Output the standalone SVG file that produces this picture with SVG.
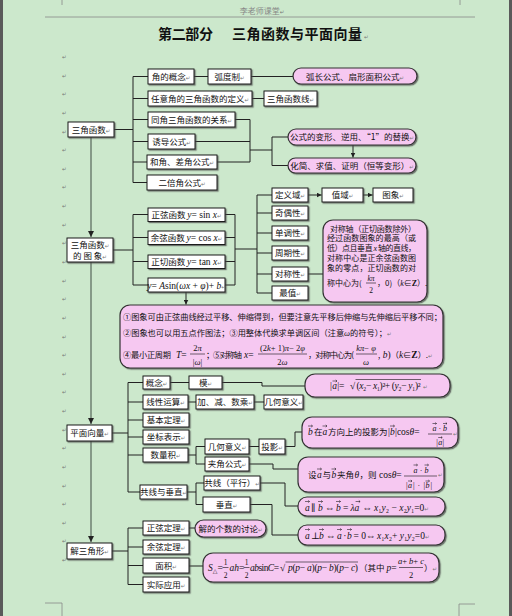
<svg xmlns="http://www.w3.org/2000/svg" width="512" height="616" viewBox="0 0 512 616">
<defs>
<style>
.t{font-family:"Noto Sans CJK SC","Noto Sans CJK JP",sans-serif;font-size:8.5px;fill:#111}
.s{font-size:8.2px}
.c{text-anchor:middle}
.m{font-family:"Liberation Serif","DejaVu Serif",serif;font-style:italic;font-size:9.5px}
.r{font-family:"Liberation Serif","DejaVu Serif",serif;font-style:normal;font-size:9.5px}
.q{font-size:8px}
.f{font-size:8px}
.pm{font-family:"DejaVu Sans",sans-serif;font-size:5.5px;fill:#777;font-style:normal}
.box{fill:#fff;stroke:#1a1a1a;stroke-width:1;filter:url(#sh)}
.pk{fill:#F6C8F1;stroke:#333;stroke-width:1.2;filter:url(#sh)}
.ln{fill:none;stroke:#222;stroke-width:1}
.lg{fill:none;stroke:#56655a;stroke-width:1.2}
.ar{marker-end:url(#ah)}
.fb{stroke:#111;stroke-width:0.6}
.va{fill:none;stroke:#111;stroke-width:0.55}
.pg{fill:none;stroke:#888;stroke-width:0.8}
</style>
<filter id="sh" x="-10%" y="-20%" width="125%" height="150%">
<feDropShadow dx="1.2" dy="1.2" stdDeviation="0.2" flood-color="#444" flood-opacity="0.7"/>
</filter>
<marker id="ah" viewBox="0 0 6 6" refX="6" refY="3" markerWidth="5" markerHeight="5" orient="auto"><path d="M0,0 L6,3 L0,6 z" fill="#222"/></marker>
</defs>
<rect x="0" y="0" width="512" height="616" fill="#CCE8CC"/>
<rect x="0" y="0" width="3" height="616" fill="#5a5a5a"/>
<rect x="509" y="0" width="3" height="616" fill="#5a5a5a"/>

<g id="page">
<path class="pg" d="M62,0 V5 M460,0 V5 M45,17 H475 M62,616 V603 H45 M459,616 V604 H475"/>
<text class="t c" x="262" y="14" style="font-size:8px;fill:#888">李老师课堂<tspan class="pm">↵</tspan></text>
<text class="t" x="158" y="39" style="font-size:14px;font-weight:bold" textLength="55">第二部分</text>
<text class="t" x="232" y="39" style="font-size:14px;font-weight:bold" textLength="130">三角函数与平面向量</text>
<text class="pm" x="364" y="39">↵</text>
<text class="pm" x="62"><tspan x="62" y="59">↵</tspan><tspan x="62" y="77.6">↵</tspan><tspan x="62" y="96.3">↵</tspan><tspan x="62" y="114.9">↵</tspan><tspan x="62" y="133.5">↵</tspan><tspan x="62" y="152.2">↵</tspan><tspan x="62" y="170.8">↵</tspan><tspan x="62" y="189.4">↵</tspan><tspan x="62" y="208">↵</tspan><tspan x="62" y="226.7">↵</tspan><tspan x="62" y="245.3">↵</tspan><tspan x="62" y="263.9">↵</tspan><tspan x="62" y="282.6">↵</tspan><tspan x="62" y="301.2">↵</tspan><tspan x="62" y="319.8">↵</tspan><tspan x="62" y="338.5">↵</tspan><tspan x="62" y="357.1">↵</tspan><tspan x="62" y="375.7">↵</tspan><tspan x="62" y="394.3">↵</tspan><tspan x="62" y="413">↵</tspan><tspan x="62" y="431.6">↵</tspan><tspan x="62" y="450.2">↵</tspan><tspan x="62" y="468.9">↵</tspan><tspan x="62" y="487.5">↵</tspan><tspan x="62" y="506.1">↵</tspan><tspan x="62" y="524.8">↵</tspan><tspan x="62" y="543.4">↵</tspan><tspan x="62" y="562">↵</tspan></text>
</g>

<g id="connectors">
<path class="lg ar" d="M91,137 V237"/>
<path class="lg ar" d="M91,262 V424"/>
<path class="lg ar" d="M91,441 V542"/>
<path class="ln" d="M114,129.5 H133 M133,76.5 V182.5 M133,76.5 H148 M133,98.5 H148 M133,119.5 H148 M133,141.5 H148 M133,162 H147 M133,182.5 H147"/>
<path class="ln" d="M194,76.5 H208 M251,76.5 H293 M252,98.5 H264"/>
<path class="ln" d="M235,119.5 H250 M195,141.5 H250 M217,162 H250 M250,119.5 V162 M250,150 H272 M272,137 V165.5 M272,137 H288 M272,165.5 H288"/>
<path class="ln ar" d="M353,145 V157.5"/>
<path class="ln" d="M113,250 H133 M133,214.5 V285 M133,214.5 H148 M133,237.5 H148 M133,261.5 H148 M133,285 H148"/>
<path class="ln" d="M225,214.5 H235 M225,237.5 H235 M225,261.5 H235 M225,285 H235 M235,214.5 V285 M235,249 H257 M257,195 V293"/>
<path class="ln" d="M257,195 H272 M257,213 H272 M257,233 H272 M257,253 H272 M257,274 H272 M257,293 H272 M308,274 H323"/>
<path class="ln ar" d="M308,195 H321.5"/>
<path class="ln ar" d="M363,195 H372.5"/>
<path class="ln ar" d="M186,292 V304.5"/>
<path class="ln" d="M112,433 H128 M128,382.5 V492 M128,382.5 H143 M128,402 H143 M128,420 H143 M128,437 H143 M128,455 H143 M128,492 H140"/>
<path class="ln" d="M170,382.5 H189 M222,382.5 H262 V386 H305 M188,402 H196 M254,402 H264"/>
<path class="ln" d="M188,455 H196 M196,446.5 V464 M196,446.5 H205 M196,464 H205 M249,446.5 H259 M285,446.5 H295 V432 H302 M249,464 H273 V469 H298"/>
<path class="ln" d="M187,492 H196 M196,483 V504.5 M196,483 H204 M196,504.5 H203 M260,483 H285 V506 H298 M250,504.5 H272 V535 H298"/>
<path class="ln" d="M112,551 H128 M128,528 V584.5 M128,528 H143 M128,547 H143 M128,565.5 H143 M128,584.5 H143 M189,528 H195 M189,566 H203"/>
</g>

<g id="n-sanjiao"><rect class="box" x="68" y="122" width="46" height="15"/><text class="t c" x="91" y="132.5">三角函数<tspan class="pm">↵</tspan></text></g>
<g id="n-jiaodegainian"><rect class="box" x="148" y="69" width="46" height="15"/><text class="t c" x="171" y="79.5">角的概念<tspan class="pm">↵</tspan></text></g>
<g id="n-hudu"><rect class="box" x="208" y="69" width="43" height="15"/><text class="t c" x="229.5" y="79.5">弧度制<tspan class="pm">↵</tspan></text></g>
<g id="p-huchang"><rect class="pk" x="293" y="68" width="124" height="16" rx="8"/><text class="t c" x="355" y="79.5">弧长公式、扇形面积公式<tspan class="pm">↵</tspan></text></g>
<g id="n-renyijiao"><rect class="box" x="148" y="91" width="104" height="15"/><text class="t c" x="200" y="101.5">任意角的三角函数的定义<tspan class="pm">↵</tspan></text></g>
<g id="n-hanshuxian"><rect class="box" x="264" y="91" width="53" height="15"/><text class="t c" x="290.5" y="101.5">三角函数线<tspan class="pm">↵</tspan></text></g>
<g id="n-tongjiao"><rect class="box" x="148" y="112" width="87" height="15"/><text class="t c" x="191.5" y="122.5">同角三角函数的关系<tspan class="pm">↵</tspan></text></g>
<g id="n-youdao"><rect class="box" x="148" y="134" width="47" height="15"/><text class="t c" x="171.5" y="144.5">诱导公式<tspan class="pm">↵</tspan></text></g>
<g id="n-hejiao"><rect class="box" x="147" y="155" width="70" height="14"/><text class="t c" x="182" y="165">和角、差角公式<tspan class="pm">↵</tspan></text></g>
<g id="n-erbei"><rect class="box" x="147" y="175" width="70" height="15"/><text class="t c" x="182" y="185.5">二倍角公式<tspan class="pm">↵</tspan></text></g>
<g id="p-bianxing"><rect class="pk" x="288" y="129" width="128" height="16" rx="8"/><text class="t c" x="352" y="140.3">公式的变形、逆用、“1”的替换<tspan class="pm">↵</tspan></text></g>
<g id="p-huajian"><rect class="pk" x="288" y="158" width="128" height="15" rx="7.5"/><text class="t c" x="352" y="168.8">化简、求值、证明（恒等变形）<tspan class="pm">↵</tspan></text></g>

<g id="n-tuxiang"><rect class="box" x="67" y="238" width="46" height="24"/><text class="t c" x="90" y="247.5">三角函数<tspan class="pm">↵</tspan></text><text class="t c" x="90" y="258.5">的 图 象<tspan class="pm">↵</tspan></text></g>
<g id="n-sin"><rect class="box" x="148" y="208" width="77" height="13.5"/><text class="t c" x="186.5" y="218">正弦函数 <tspan class="m">y</tspan><tspan class="r">= sin </tspan><tspan class="m">x</tspan><tspan class="pm">↵</tspan></text></g>
<g id="n-cos"><rect class="box" x="148" y="231" width="77" height="13.5"/><text class="t c" x="186.5" y="241">余弦函数 <tspan class="m">y</tspan><tspan class="r">= cos </tspan><tspan class="m">x</tspan><tspan class="pm">↵</tspan></text></g>
<g id="n-tan"><rect class="box" x="148" y="255" width="77" height="13.5"/><text class="t c" x="186.5" y="265">正切函数 <tspan class="m">y</tspan><tspan class="r">= tan </tspan><tspan class="m">x</tspan><tspan class="pm">↵</tspan></text></g>
<g id="n-asin"><rect class="box" x="148" y="278" width="77" height="14"/><text class="t c" x="186.5" y="288.5"><tspan class="m">y</tspan><tspan class="r">= </tspan><tspan class="m">A</tspan><tspan class="r">sin(</tspan><tspan class="m">ωx</tspan><tspan class="r"> + </tspan><tspan class="m">φ</tspan><tspan class="r">)+ </tspan><tspan class="m">b</tspan><tspan class="pm">↵</tspan></text></g>
<g id="n-dingyiyu"><rect class="box" x="272" y="188" width="36" height="14"/><text class="t c" x="290" y="198">定义域<tspan class="pm">↵</tspan></text></g>
<g id="n-zhiyu"><rect class="box" x="322" y="188" width="41" height="14"/><text class="t c" x="342.5" y="198">值域<tspan class="pm">↵</tspan></text></g>
<g id="n-tuxiang2"><rect class="box" x="373" y="188" width="40" height="14"/><text class="t c" x="393" y="198">图象<tspan class="pm">↵</tspan></text></g>
<g id="n-jiou"><rect class="box" x="272" y="206" width="36" height="14"/><text class="t c" x="290" y="216">奇偶性<tspan class="pm">↵</tspan></text></g>
<g id="n-dandiao"><rect class="box" x="272" y="226" width="36" height="14"/><text class="t c" x="290" y="236">单调性<tspan class="pm">↵</tspan></text></g>
<g id="n-zhouqi"><rect class="box" x="272" y="246" width="36" height="14"/><text class="t c" x="290" y="256">周期性<tspan class="pm">↵</tspan></text></g>
<g id="n-duichen"><rect class="box" x="272" y="267" width="36" height="14"/><text class="t c" x="290" y="277">对称性<tspan class="pm">↵</tspan></text></g>
<g id="n-zuizhi"><rect class="box" x="272" y="286" width="36" height="14"/><text class="t c" x="290" y="296">最值<tspan class="pm">↵</tspan></text></g>
<g id="p-duichen">
<rect class="pk" x="323" y="220" width="104" height="82" rx="10"/>
<text class="t f" x="330" y="231.5" textLength="86">对称轴（正切函数除外）</text>
<text class="t f" x="327" y="241" textLength="89">经过函数图象的最高（或</text>
<text class="t f" x="327" y="251" textLength="89">低）点且垂直 <tspan class="m" style="font-size:8px">x</tspan> 轴的直线，</text>
<text class="t f" x="327" y="261" textLength="89">对称中心是正余弦函数图</text>
<text class="t f" x="327" y="271" textLength="89">象的零点，正切函数的对</text>
<text class="t f" x="327" y="285.5">称中心为(</text>
<text class="t c" x="371" y="281"><tspan class="m" style="font-size:7.5px">kπ</tspan></text>
<line class="fb" x1="366" y1="283" x2="376" y2="283"/>
<text class="t c" x="371" y="292.5"><tspan class="r" style="font-size:7.5px">2</tspan></text>
<text class="t f" x="377" y="285.5">，0)（<tspan class="m" style="font-size:8px">k</tspan>∈<tspan class="r" style="font-size:8px;font-weight:bold">Z</tspan>）.</text>
</g>
<g id="p-big">
<rect class="pk" x="120" y="305" width="323" height="63" rx="10"/>
<text class="t s" x="123" y="320" textLength="319">①图象可由正弦曲线经过平移、伸缩得到，但要注意先平移后伸缩与先伸缩后平移不同；</text>
<text class="t s" x="123" y="336">②图象也可以用五点作图法；③用整体代换求单调区间（注意<tspan class="m" style="font-size:8.5px">ω</tspan>的符号）；<tspan class="pm">↵</tspan></text>
<text class="t s" x="123" y="358" textLength="48">④最小正周期</text>
<text class="t s" x="176" y="358"><tspan class="m">T</tspan><tspan class="r">=</tspan></text>
<text class="t c" x="197.5" y="351"><tspan class="r" style="font-size:8.5px">2</tspan><tspan class="m" style="font-size:8.5px">π</tspan></text>
<line class="fb" x1="190" y1="354" x2="205" y2="354"/>
<text class="t c" x="197.5" y="364.5"><tspan class="r" style="font-size:8.5px">|</tspan><tspan class="m" style="font-size:8.5px">ω</tspan><tspan class="r" style="font-size:8.5px">|</tspan></text>
<text class="t s" x="206" y="358" textLength="36">；⑤对称轴</text>
<text class="t s" x="244" y="358"><tspan class="m">x</tspan><tspan class="r">=</tspan></text>
<text class="t c" x="282.5" y="351"><tspan class="r" style="font-size:8.5px">(2</tspan><tspan class="m" style="font-size:8.5px">k</tspan><tspan class="r" style="font-size:8.5px">+ 1)</tspan><tspan class="m" style="font-size:8.5px">π</tspan><tspan class="r" style="font-size:8.5px">− 2</tspan><tspan class="m" style="font-size:8.5px">φ</tspan></text>
<line class="fb" x1="258" y1="354" x2="307" y2="354"/>
<text class="t c" x="282.5" y="364.5"><tspan class="r" style="font-size:8.5px">2</tspan><tspan class="m" style="font-size:8.5px">ω</tspan></text>
<text class="t s" x="308" y="358" textLength="46">，对称中心为(</text>
<text class="t c" x="366" y="351"><tspan class="m" style="font-size:8.5px">kπ</tspan><tspan class="r" style="font-size:8.5px">− </tspan><tspan class="m" style="font-size:8.5px">φ</tspan></text>
<line class="fb" x1="356" y1="354" x2="377" y2="354"/>
<text class="t c" x="366" y="364.5"><tspan class="m" style="font-size:8.5px">ω</tspan></text>
<text class="t s" x="378" y="358"><tspan class="r">, </tspan><tspan class="m">b</tspan><tspan class="r">)</tspan>（<tspan class="m">k</tspan>∈<tspan class="r" style="font-weight:bold">Z</tspan>）.<tspan class="pm">↵</tspan></text>
</g>

<g id="n-pingmian"><rect class="box" x="67" y="425" width="45" height="16"/><text class="t c" x="89.5" y="436">平面向量<tspan class="pm">↵</tspan></text></g>
<g id="n-gainian"><rect class="box" x="143" y="376" width="27" height="13"/><text class="t c" x="156.5" y="385.5">概念<tspan class="pm">↵</tspan></text></g>
<g id="n-mo"><rect class="box" x="189" y="376" width="33" height="13"/><text class="t c" x="205.5" y="385.5">模<tspan class="pm">↵</tspan></text></g>
<g id="p-mo"><rect class="pk" x="305" y="374" width="145" height="23" rx="10"/>
<text class="t" x="330" y="389"><tspan class="r">|</tspan><tspan class="m" x="332.3">a</tspan><tspan class="r" x="337.2">|=</tspan><tspan class="r" x="350">√</tspan></text>
<text class="t" x="356.5" y="389" textLength="64"><tspan class="r">(</tspan><tspan class="m">x</tspan><tspan class="r">₂− </tspan><tspan class="m">x</tspan><tspan class="r">₁)²+ (</tspan><tspan class="m">y</tspan><tspan class="r">₂− </tspan><tspan class="m">y</tspan><tspan class="r">₁)²</tspan></text>
<line class="fb" x1="355.5" y1="379.5" x2="421" y2="379.5"/>
<path class="va" d="M332.5,381 h4.5 m-1.3,-1.1 l1.3,1.1 l-1.3,1.1"/>
<text class="pm" x="423" y="389">↵</text>
</g>
<g id="n-xianxing"><rect class="box" x="143" y="395" width="45" height="14"/><text class="t c" x="165.5" y="405">线性运算<tspan class="pm">↵</tspan></text></g>
<g id="n-jiajian"><rect class="box" x="196" y="395" width="58" height="14"/><text class="t c" x="225" y="405">加、减、数乘<tspan class="pm">↵</tspan></text></g>
<g id="n-jihe1"><rect class="box" x="264" y="395" width="39" height="14"/><text class="t c" x="283.5" y="405">几何意义<tspan class="pm">↵</tspan></text></g>
<g id="n-jiben"><rect class="box" x="143" y="413" width="46" height="14"/><text class="t c" x="166" y="423">基本定理<tspan class="pm">↵</tspan></text></g>
<g id="n-zuobiao"><rect class="box" x="143" y="430" width="46" height="14"/><text class="t c" x="166" y="440">坐标表示<tspan class="pm">↵</tspan></text></g>
<g id="n-shuliangji"><rect class="box" x="143" y="448" width="45" height="14"/><text class="t c" x="165.5" y="458">数量积<tspan class="pm">↵</tspan></text></g>
<g id="n-jihe2"><rect class="box" x="205" y="439" width="44" height="15"/><text class="t c" x="227" y="449.5">几何意义<tspan class="pm">↵</tspan></text></g>
<g id="n-touying"><rect class="box" x="259" y="439" width="26" height="15"/><text class="t c" x="272" y="449.5">投影<tspan class="pm">↵</tspan></text></g>
<g id="n-jiajiao"><rect class="box" x="205" y="457" width="44" height="14"/><text class="t c" x="227" y="467">夹角公式<tspan class="pm">↵</tspan></text></g>
<g id="p-touying"><rect class="pk" x="302" y="417" width="156" height="31" rx="10"/>
<text class="t" x="308" y="435"><tspan class="m">b</tspan><tspan x="314">在</tspan><tspan class="m" x="322.5">a</tspan><tspan x="328">方向上的投影为</tspan><tspan class="r" x="388">|</tspan><tspan class="m" x="390">b</tspan><tspan class="r" x="395">|cos</tspan><tspan class="m">θ</tspan><tspan class="r">=</tspan></text>
<text class="t" x="432.5" y="431"><tspan class="m q">a</tspan><tspan class="r q" x="438.5">·</tspan><tspan class="m q" x="443">b</tspan></text>
<line class="fb" x1="428" y1="434" x2="452" y2="434"/>
<text class="t" x="436.3" y="444.5"><tspan class="r q">|</tspan><tspan class="m q" x="438.2">a</tspan><tspan class="r q" x="442.4">|</tspan></text>
<path class="va" d="M308,426 h4.5 m-1.3,-1.1 l1.3,1.1 l-1.3,1.1 M322.5,426 h4.5 m-1.3,-1.1 l1.3,1.1 l-1.3,1.1 M390,426 h4.5 m-1.3,-1.1 l1.3,1.1 l-1.3,1.1 M432.5,423.5 h4 m-1.2,-1 l1.2,1 l-1.2,1 M443,423.5 h4 m-1.2,-1 l1.2,1 l-1.2,1 M438.2,437.5 h4 m-1.2,-1 l1.2,1 l-1.2,1"/>
<text class="pm" x="453" y="436">↵</text>
</g>
<g id="p-jiajiao"><rect class="pk" x="298" y="457" width="146" height="35" rx="10"/>
<text class="t" x="308" y="478">设<tspan class="m" x="317">a</tspan><tspan x="322.5">与</tspan><tspan class="m" x="331.5">b</tspan><tspan x="337">夹角</tspan><tspan class="m" x="354.5">θ</tspan><tspan x="359.5">，则 </tspan><tspan class="r" x="379">cos</tspan><tspan class="m">θ</tspan><tspan class="r">=</tspan></text>
<text class="t" x="413.5" y="472.5"><tspan class="m q">a</tspan><tspan class="r q" x="419.8">·</tspan><tspan class="m q" x="424.5">b</tspan></text>
<line class="fb" x1="404" y1="476" x2="437" y2="476"/>
<text class="t" x="406" y="488"><tspan class="r q">|</tspan><tspan class="m q" x="408">a</tspan><tspan class="r q" x="413">|</tspan><tspan class="r q" x="417.5">·</tspan><tspan class="r q" x="423.5">|</tspan><tspan class="m q" x="425.5">b</tspan><tspan class="r q" x="430.5">|</tspan></text>
<path class="va" d="M317,469 h4.5 m-1.3,-1.1 l1.3,1.1 l-1.3,1.1 M331.5,469 h4.5 m-1.3,-1.1 l1.3,1.1 l-1.3,1.1 M413.5,465 h4 m-1.2,-1 l1.2,1 l-1.2,1 M424.5,465 h4 m-1.2,-1 l1.2,1 l-1.2,1 M408,481 h4 m-1.2,-1 l1.2,1 l-1.2,1 M425.5,481 h4 m-1.2,-1 l1.2,1 l-1.2,1"/>
<text class="pm" x="438" y="477">↵</text>
</g>
<g id="n-gongxianchuizhi"><rect class="box" x="140" y="485" width="47" height="14"/><text class="t c" x="163.5" y="495">共线与垂直<tspan class="pm">↵</tspan></text></g>
<g id="n-gongxian"><rect class="box" x="204" y="476" width="56" height="14"/><text class="t c" x="232" y="486">共线（平行）<tspan class="pm">↵</tspan></text></g>
<g id="n-chuizhi"><rect class="box" x="203" y="497" width="47" height="15"/><text class="t c" x="226.5" y="507.5">垂直<tspan class="pm">↵</tspan></text></g>
<g id="p-gongxian"><rect class="pk" x="298" y="497" width="147" height="19" rx="9"/>
<text class="t" x="305" y="510.5"><tspan class="m">a</tspan><tspan class="r" x="311">∥</tspan><tspan class="m" x="318">b</tspan><tspan class="r" x="325">⇔</tspan><tspan class="m" x="336">b</tspan><tspan class="r" x="343">=</tspan><tspan class="m" x="350.5">λa</tspan><tspan class="r" x="362.5">⇔</tspan><tspan class="m" x="374">x</tspan><tspan class="r">₁</tspan><tspan class="m">y</tspan><tspan class="r">₂ − </tspan><tspan class="m">x</tspan><tspan class="r">₂</tspan><tspan class="m">y</tspan><tspan class="r">₁=0</tspan><tspan class="pm">↵</tspan></text>
<path class="va" d="M305,501.5 h4.5 m-1.3,-1.1 l1.3,1.1 l-1.3,1.1 M318,501.5 h4.5 m-1.3,-1.1 l1.3,1.1 l-1.3,1.1 M336,501.5 h4.5 m-1.3,-1.1 l1.3,1.1 l-1.3,1.1 M355.6,501.5 h4.5 m-1.3,-1.1 l1.3,1.1 l-1.3,1.1"/>
</g>
<g id="p-chuizhi"><rect class="pk" x="298" y="525" width="147" height="20" rx="9"/>
<text class="t" x="305" y="538.5"><tspan class="m">a</tspan><tspan class="r" x="311">⊥</tspan><tspan class="m" x="319">b</tspan><tspan class="r" x="326">⇔</tspan><tspan class="m" x="337">a</tspan><tspan class="r" x="343.3">·</tspan><tspan class="m" x="347">b</tspan><tspan class="r" x="353.5">= 0</tspan><tspan class="r" x="366">⇔</tspan><tspan class="m" x="377">x</tspan><tspan class="r">₁</tspan><tspan class="m">x</tspan><tspan class="r">₂+ </tspan><tspan class="m">y</tspan><tspan class="r">₁</tspan><tspan class="m">y</tspan><tspan class="r">₂=0</tspan><tspan class="pm">↵</tspan></text>
<path class="va" d="M305,529.5 h4.5 m-1.3,-1.1 l1.3,1.1 l-1.3,1.1 M319,529.5 h4.5 m-1.3,-1.1 l1.3,1.1 l-1.3,1.1 M337,529.5 h4.5 m-1.3,-1.1 l1.3,1.1 l-1.3,1.1 M347,529.5 h4.5 m-1.3,-1.1 l1.3,1.1 l-1.3,1.1"/>
</g>

<g id="n-jiesanjiao"><rect class="box" x="67" y="543" width="45" height="16"/><text class="t c" x="89.5" y="554">解三角形<tspan class="pm">↵</tspan></text></g>
<g id="n-zhengxian"><rect class="box" x="143" y="521" width="46" height="14"/><text class="t c" x="166" y="531">正弦定理<tspan class="pm">↵</tspan></text></g>
<g id="p-jiedegeshu"><rect class="pk" x="195" y="520" width="71" height="17" rx="8.5"/><text class="t c" x="230.5" y="531.5">解的个数的讨论<tspan class="pm">↵</tspan></text></g>
<g id="n-yuxian"><rect class="box" x="143" y="540" width="46" height="14"/><text class="t c" x="166" y="550">余弦定理<tspan class="pm">↵</tspan></text></g>
<g id="n-mianji"><rect class="box" x="143" y="558" width="46" height="15"/><text class="t c" x="166" y="568.5">面积<tspan class="pm">↵</tspan></text></g>
<g id="n-shiji"><rect class="box" x="143" y="577" width="46" height="15"/><text class="t c" x="166" y="587.5">实际应用<tspan class="pm">↵</tspan></text></g>
<g id="p-mianji"><rect class="pk" x="203" y="553" width="236" height="29" rx="10"/>
<text class="t" x="208" y="571"><tspan class="m">S</tspan><tspan class="r" style="font-size:6px" dy="1.5">△</tspan><tspan class="r" dy="-1.5">=</tspan></text>
<text class="t c" x="225.5" y="564.5"><tspan class="r" style="font-size:7.5px">1</tspan></text>
<line class="fb" x1="222.5" y1="567.5" x2="228.5" y2="567.5"/>
<text class="t c" x="225.5" y="578"><tspan class="r" style="font-size:7.5px">2</tspan></text>
<text class="t" x="229.5" y="571"><tspan class="m">ah</tspan><tspan class="r">=</tspan></text>
<text class="t c" x="246.5" y="564.5"><tspan class="r" style="font-size:7.5px">1</tspan></text>
<line class="fb" x1="243.5" y1="567.5" x2="249.5" y2="567.5"/>
<text class="t c" x="246.5" y="578"><tspan class="r" style="font-size:7.5px">2</tspan></text>
<text class="t" x="250" y="571" textLength="29"><tspan class="m">ab</tspan><tspan class="r">sin</tspan><tspan class="m">C</tspan><tspan class="r">=</tspan></text>
<text class="t" x="280" y="571"><tspan class="r">√</tspan></text>
<text class="t" x="288" y="571" textLength="70"><tspan class="m">p</tspan><tspan class="r">(</tspan><tspan class="m">p</tspan><tspan class="r">− </tspan><tspan class="m">a</tspan><tspan class="r">)(</tspan><tspan class="m">p</tspan><tspan class="r">− </tspan><tspan class="m">b</tspan><tspan class="r">)(</tspan><tspan class="m">p</tspan><tspan class="r">− </tspan><tspan class="m">c</tspan><tspan class="r">)</tspan></text>
<line class="fb" x1="285.5" y1="562" x2="358" y2="562"/>
<text class="t" x="359" y="571">（其中 <tspan class="m">p</tspan><tspan class="r">=</tspan></text>
<text class="t c" x="411" y="564"><tspan class="m" style="font-size:8.5px">a</tspan><tspan class="r" style="font-size:8.5px">+ </tspan><tspan class="m" style="font-size:8.5px">b</tspan><tspan class="r" style="font-size:8.5px">+ </tspan><tspan class="m" style="font-size:8.5px">c</tspan></text>
<line class="fb" x1="399" y1="567.5" x2="423" y2="567.5"/>
<text class="t c" x="411" y="578"><tspan class="r" style="font-size:8.5px">2</tspan></text>
<text class="t" x="424" y="571">）<tspan class="pm">↵</tspan></text>
</g>
</svg>
